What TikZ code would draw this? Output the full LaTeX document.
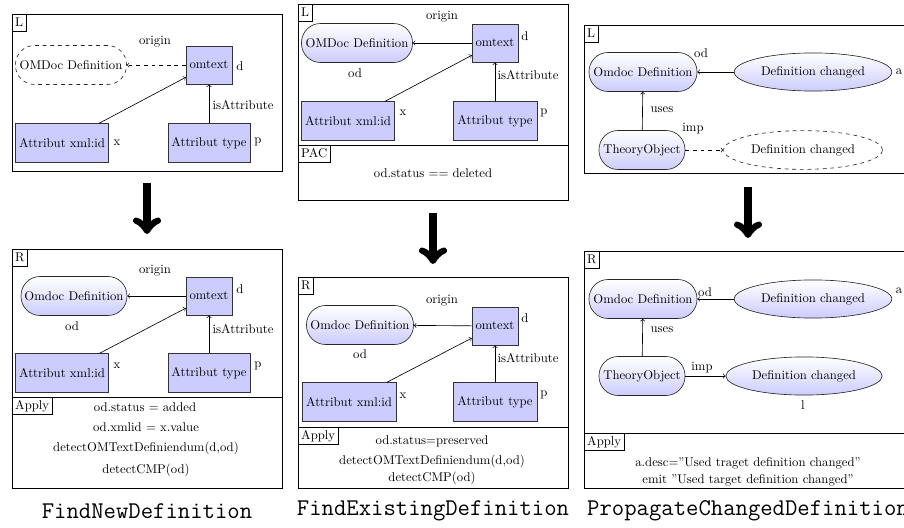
\documentclass[tikz,border=0pt]{standalone}
\usetikzlibrary{shapes.geometric}
\begin{document}
\begin{tikzpicture}[x=0.787pt,y=-0.787pt,
  frame/.style={draw=black, line width=0.6pt},
  tag/.style={draw=black, fill=white, anchor=north west, inner sep=2.3pt, text height=7pt, text depth=2pt, line width=0.5pt},
  box/.style={rectangle, draw=black!80, fill=blue!20, minimum height=30.5pt, inner sep=2pt, line width=0.5pt},
  omt/.style={box, minimum width=36pt, minimum height=30pt},
  rr/.style={rectangle, rounded corners=15pt, draw=black!85, top color=white, bottom color=blue!20, minimum height=30.7pt, inner sep=2pt, line width=0.5pt},
  rrd/.style={rectangle, rounded corners=15pt, draw=black!85, dashed, minimum height=30.7pt, inner sep=2pt, line width=0.5pt},
  ell/.style={ellipse, draw=black!85, top color=white, bottom color=blue!20, minimum width=124pt, minimum height=30pt, inner sep=1pt, line width=0.5pt},
  elld/.style={ellipse, draw=black!85, dashed, minimum width=125pt, minimum height=30.5pt, inner sep=1pt, line width=0.5pt},
  lbl/.style={inner sep=0pt},
  conn/.style={->, line width=0.5pt},
  bigarrow/.style={->, line width=6.2pt},
  captext/.style={font=\fontsize{18.9}{22}\selectfont\ttfamily, inner sep=0pt}]
\useasboundingbox (0,0) rectangle (904,527);
\clip (0,0) rectangle (904,527);

% ================= Column 1 L =================
\draw[frame] (12,14) rectangle (282,171);
\node[tag] (L1) at (12,14) {L};
\node[rrd, minimum width=87.4pt] (odA) at (71,65) {OMDoc Definition};
\node[omt] (omA) at (209,65) {omtext};
\node[box, minimum width=73.2pt] (xidA) at (62,143) {Attribut xml:id};
\node[box, minimum width=64.5pt] (tyA) at (209,143) {Attribut type};
\node[lbl] (orA) at (155,42) {origin};
\node[lbl] (dA) at (240,66) {d};
\node[lbl] (xA) at (117,143) {x};
\node[lbl] (pA) at (258,142) {p};
\node[lbl] (iaA) at (243,105) {isAttribute};
\draw[conn, dashed] (omA) -- (odA);
\draw[conn] (xidA) -- (omA);
\draw[conn] (tyA) -- (omA);

\coordinate (a1s) at (147,183);
\coordinate (a1e) at (147,234);
\draw[bigarrow] (a1s) -- (a1e);

% ================= Column 1 R =================
\draw[frame] (12,249) rectangle (282,397);
\draw[frame] (12,397) rectangle (282,488);
\node[tag] (R1) at (12,249) {R};
\node[tag] (Ap1) at (12,397) {Apply};
\node[rr, minimum width=83.4pt] (odB) at (74,296) {Omdoc Definition};
\node[omt] (omB) at (209,296) {omtext};
\node[box, minimum width=73.2pt] (xidB) at (62,373) {Attribut xml:id};
\node[box, minimum width=64.5pt] (tyB) at (209,373) {Attribut type};
\node[lbl] (orB) at (155,271) {origin};
\node[lbl] (dB) at (240,289) {d};
\node[lbl] (odlB) at (72,326) {od};
\node[lbl] (xB) at (117,366) {x};
\node[lbl] (pB) at (258,366) {p};
\node[lbl] (iaB) at (243,329) {isAttribute};
\draw[conn] (omB) -- (odB);
\draw[conn] (xidB) -- (omB);
\draw[conn] (tyB) -- (omB);
\node[lbl] (t1a) at (145,407) {od.status $=$ added};
\node[lbl] (t1b) at (146,427) {od.xmlid $=$ x.value};
\node[lbl] (t1c) at (146,448) {detectOMTextDefiniendum(d,od)};
\node[lbl] (t1d) at (146,470) {detectCMP(od)};

% ================= Column 2 L =================
\draw[frame] (298,4) rectangle (568,145);
\draw[frame] (298,145) rectangle (568,200);
\node[tag] (L2) at (298,4) {L};
\node[tag] (PAC) at (298,145) {PAC};
\node[rr, minimum width=87.4pt] (odC) at (357,43) {OMDoc Definition};
\node[omt] (omC) at (495,43) {omtext};
\node[box, minimum width=73.2pt] (xidC) at (348,121) {Attribut xml:id};
\node[box, minimum width=66pt] (tyC) at (495,121) {Attribut type};
\node[lbl] (orC) at (442,17) {origin};
\node[lbl] (dC) at (525,36) {d};
\node[lbl] (odlC) at (355,73) {od};
\node[lbl] (xC) at (403,113) {x};
\node[lbl] (pC) at (544,113) {p};
\node[lbl] (iaC) at (528,75) {isAttribute};
\draw[conn] (omC) -- (odC);
\draw[conn] (xidC) -- (omC);
\draw[conn] (tyC) -- (omC);
\node[lbl] (t2p) at (433,173) {od.status $==$ deleted};

\coordinate (a2s) at (433,213);
\coordinate (a2e) at (433,264);
\draw[bigarrow] (a2s) -- (a2e);

% ================= Column 2 R =================
\draw[frame] (298,277) rectangle (568,427);
\draw[frame] (298,427) rectangle (568,488);
\node[tag] (R2) at (298,277) {R};
\node[tag] (Ap2) at (298,427) {Apply};
\node[rr, minimum width=84.2pt] (odD) at (360,325) {Omdoc Definition};
\node[omt] (omD) at (495,326) {omtext};
\node[box, minimum width=74pt] (xidD) at (349,402) {Attribut xml:id};
\node[box, minimum width=66pt] (tyD) at (495,402) {Attribut type};
\node[lbl] (orD) at (442,301) {origin};
\node[lbl] (dD) at (525,318) {d};
\node[lbl] (odlD) at (360,354) {od};
\node[lbl] (xD) at (403,396) {x};
\node[lbl] (pD) at (544,395) {p};
\node[lbl] (iaD) at (528,358) {isAttribute};
\draw[conn] (omD) -- (odD);
\draw[conn] (xidD) -- (omD);
\draw[conn] (tyD) -- (omD);
\node[lbl] (t2a) at (432,441) {od.status=preserved};
\node[lbl] (t2b) at (432,461) {detectOMTextDefiniendum(d,od)};
\node[lbl] (t2c) at (432,478) {detectCMP(od)};

% ================= Column 3 L =================
\draw[frame] (584,25) rectangle (912,173);
\node[tag] (L3) at (584,25) {L};
\node[rr, minimum width=85pt] (odE) at (643,72) {Omdoc Definition};
\node[ell] (dcE) at (813,72) {Definition changed};
\node[rr, minimum width=67.7pt] (toE) at (642,150) {TheoryObject};
\node[elld] (dcE2) at (803,150) {Definition changed};
\node[lbl] (odlE) at (701,53) {od};
\node[lbl] (aE) at (899,72) {a};
\node[lbl] (usE) at (662,110) {uses};
\node[lbl] (imE) at (693,129) {imp};
\draw[conn] (dcE) -- (odE);
\draw[conn] (toE) -- (odE);
\draw[conn, dashed] (toE) -- (dcE2);

\coordinate (a3s) at (748,187);
\coordinate (a3e) at (748,238);
\draw[bigarrow] (a3s) -- (a3e);

% ================= Column 3 R =================
\draw[frame] (584,251) rectangle (912,433);
\draw[frame] (584,433) rectangle (912,488);
\node[tag] (R3) at (584,251) {R};
\node[tag] (Ap3) at (584,433) {Apply};
\node[rr, minimum width=85pt] (odF) at (643,299) {Omdoc Definition};
\node[ell] (dcF) at (813,299) {Definition changed};
\node[rr, minimum width=67.7pt] (toF) at (642,376) {TheoryObject};
\node[ell, minimum width=123pt] (dcF2) at (804,376) {Definition changed};
\node[lbl] (odlF) at (705,292) {od};
\node[lbl] (aF) at (899,291) {a};
\node[lbl] (usF) at (662,330) {uses};
\node[lbl] (imF) at (702,368) {imp};
\node[lbl] (lF) at (803,405) {l};
\draw[conn] (dcF) -- (odF);
\draw[conn] (toF) -- (odF);
\draw[conn] (toF) -- (dcF2);
\node[lbl] (t3a) at (748,463) {a.desc=”Used traget definition changed”};
\node[lbl] (t3b) at (748,480) {emit "Used target definition changed"};

% ================= Captions =================
\node[captext] (c1) at (147,511) {FindNewDefinition};
\node[captext] (c2) at (433,511) {FindExistingDefinition};
\node[captext] (c3) at (748,511) {PropagateChangedDefinition};
\end{tikzpicture}
\end{document}
